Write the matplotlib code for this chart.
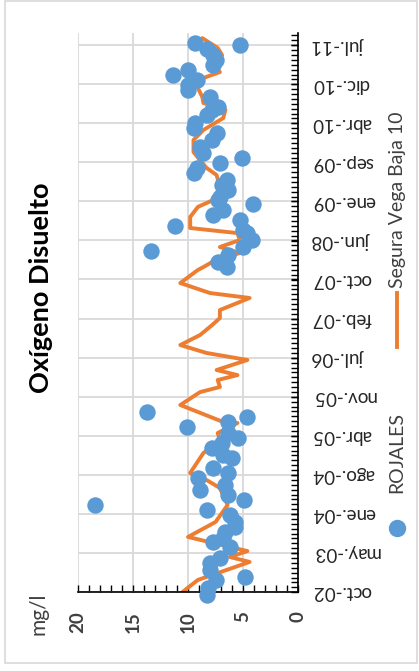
import matplotlib
matplotlib.use("Agg")
import matplotlib.pyplot as plt
import matplotlib.dates as mdates
import numpy as np
import pandas as pd
from matplotlib.lines import Line2D
from matplotlib.patches import Rectangle
from matplotlib.ticker import FixedLocator, MultipleLocator

# chart text
TITLE = "Oxígeno Disuelto"
UNIT = "mg/l"
LINE_NAME = "Segura Vega Baja 10"
DOT_NAME = "ROJALES"

# Segura Vega Baja 10 (orange line)
LINE_DATES = [
    "2002-10-01", "2002-12-11", "2003-03-27", "2003-04-25", "2003-05-30",
    "2003-08-21", "2003-11-17", "2004-02-25", "2004-06-04", "2004-07-21",
    "2004-08-02", "2004-09-01", "2004-12-27", "2005-03-14", "2005-04-24",
    "2005-06-22", "2005-06-28", "2005-10-06", "2005-12-21", "2006-01-20",
    "2006-03-02", "2006-03-31", "2006-04-30", "2006-06-28", "2006-08-08",
    "2006-09-24", "2006-11-22", "2007-01-20", "2007-03-02", "2007-04-18",
    "2007-06-28", "2007-07-27", "2007-09-24", "2007-12-10", "2007-12-27",
    "2008-01-26", "2008-03-19", "2008-04-23", "2008-06-03", "2008-07-14",
    "2008-08-13", "2008-10-17", "2008-12-15", "2009-01-25", "2009-04-11",
    "2009-06-21", "2009-08-01", "2009-08-31", "2009-11-03", "2010-01-13",
    "2010-03-13", "2010-05-22", "2010-07-09", "2010-08-19", "2010-09-23",
    "2010-11-15", "2011-01-13", "2011-02-17", "2011-03-19", "2011-05-28",
    "2011-07-09", "2011-09-05",
]
LINE_VALUES = [
    10.5, 9.1, 4.4, 6.2, 4.6,
    10.0, 7.5, 6.4, 7.1, 8.3,
    9.1, 9.8, 8.6, 7.1, 7.3,
    5.5, 6.8, 10.7, 8.9, 7.1,
    7.3, 5.5, 7.4, 4.6, 8.3,
    10.7, 8.9, 7.8, 7.1, 7.1,
    4.4, 8.0, 10.7, 9.1, 8.6,
    7.8, 5.3, 7.1, 5.3, 5.5,
    9.8, 9.8, 9.1, 7.7, 7.1,
    7.4, 8.3, 8.7, 9.5, 9.5,
    8.6, 6.8, 6.6, 8.6, 8.7,
    9.1, 8.6, 7.1, 7.7, 6.9,
    7.3, 8.7,
]

# ROJALES (blue dots)
DOT_DATES = [
    "2002-09-16", "2002-10-25", "2002-12-11", "2002-12-28", "2003-02-08",
    "2003-03-21", "2003-04-19", "2003-06-23", "2003-07-22", "2003-08-15",
    "2003-09-19", "2003-10-19", "2003-11-17", "2003-12-28", "2004-01-27",
    "2004-02-25", "2004-03-26", "2004-04-24", "2004-05-23", "2004-06-22",
    "2004-08-02", "2004-09-01", "2004-09-30", "2004-11-28", "2004-12-16",
    "2005-01-26", "2005-02-24", "2005-03-26", "2005-04-24", "2005-05-29",
    "2005-06-28", "2005-07-27", "2005-08-26",
    "2007-12-27", "2008-01-26", "2008-03-07", "2008-03-30", "2008-04-23",
    "2008-06-03", "2008-07-14", "2008-08-01", "2008-08-25", "2008-09-29",
    "2008-10-28", "2008-11-27", "2009-01-01", "2009-01-25", "2009-02-11",
    "2009-03-25", "2009-04-23", "2009-05-22", "2009-07-03", "2009-08-01",
    "2009-08-31", "2009-09-29", "2009-10-28", "2009-12-03", "2010-01-13",
    "2010-02-23", "2010-03-25", "2010-04-23", "2010-06-09", "2010-07-09",
    "2010-07-26", "2010-09-23", "2010-11-03", "2010-12-03", "2011-01-01",
    "2011-01-31", "2011-03-01", "2011-03-29", "2011-04-28", "2011-05-28",
    "2011-07-03", "2011-07-26", "2011-08-07",
]
DOT_VALUES = [
    8.3, 8.2, 7.5, 4.8, 8.0,
    8.0, 7.1, 6.2, 7.7, 6.8,
    6.6, 5.7, 5.7, 6.2, 8.3,
    18.5, 4.9, 6.4, 8.9, 6.6,
    9.1, 6.4, 7.7, 6.0, 6.8,
    7.8, 6.9, 5.5, 6.4, 10.1,
    6.4, 4.6, 13.7,
    6.5, 7.3, 6.4, 13.4, 5.0,
    4.2, 4.6, 5.0, 11.2, 5.3,
    7.7, 6.8, 4.1, 7.3, 7.1,
    6.4, 6.9, 6.5, 9.5, 9.2,
    7.1, 5.1, 8.6, 8.9, 7.8,
    7.4, 9.5, 9.4, 8.3, 7.8,
    7.3, 8.0, 10.0, 10.0, 9.2,
    11.4, 10.0, 7.7, 7.5, 7.7,
    8.3, 5.3, 9.4,
]

# axes
DATE_TICK_LABELS = [
    "oct.-02", "may.-03", "ene.-04", "ago.-04", "abr.-05", "nov.-05",
    "jul.-06", "feb.-07", "oct.-07", "jun.-08", "ene.-09", "sep.-09",
    "abr.-10", "dic.-10", "jul.-11",
]
DATE_START = "2002-10-01"
DATE_END = "2011-10-05"
DATE_STEP_DAYS = 230
VALUE_TICKS = [0, 5, 10, 15, 20]

ORANGE = "#ED7D31"
BLUE = "#5B9BD5"
GRID = "#D9D9D9"
TEXT = "#404040"

plt.rcParams["font.family"] = ["Lato", "DejaVu Sans"]

W, H = 419, 671
fig = plt.figure(figsize=(W / 100, H / 100), dpi=100)
fig.patch.set_facecolor("white")


def fx(px):
    return px / W


def fy(py):
    return 1 - py / H


ax = fig.add_axes([fx(78), fy(592), fx(298) - fx(78), fy(33) - fy(592)])

line_y = mdates.date2num(pd.to_datetime(LINE_DATES))
dot_y = mdates.date2num(pd.to_datetime(DOT_DATES))

ax.plot(LINE_VALUES, line_y, color=ORANGE, linewidth=2.8,
        solid_joinstyle="round", solid_capstyle="round", zorder=2)
ax.scatter(DOT_VALUES, dot_y, s=140, color=BLUE, linewidths=0,
           zorder=3, clip_on=False)

start = pd.Timestamp(DATE_START)
tick_dates = [start + pd.Timedelta(days=DATE_STEP_DAYS * k)
              for k in range(len(DATE_TICK_LABELS))]
ax.set_xlim(20, 0)
ax.set_ylim(mdates.date2num(start), mdates.date2num(pd.Timestamp(DATE_END)))

ax.xaxis.set_major_locator(FixedLocator(VALUE_TICKS))
ax.xaxis.set_minor_locator(MultipleLocator(1))
ax.yaxis.tick_right()
ax.set_yticks(mdates.date2num(tick_dates))
ax.set_yticklabels(DATE_TICK_LABELS, rotation=180, va="center", ha="left")
ax.yaxis.set_minor_locator(MultipleLocator(DATE_STEP_DAYS / 8))

for side in ("top", "left"):
    ax.spines[side].set_visible(False)
for side in ("bottom", "right"):
    ax.spines[side].set_color("black")
    ax.spines[side].set_linewidth(1.2)

ax.grid(True, which="major", color=GRID, linewidth=1.3)
ax.set_axisbelow(True)

ax.tick_params(axis="both", which="both", direction="in", length=5,
               width=1, color="black")
ax.tick_params(axis="x", labelrotation=90, pad=14, labelsize=13.5,
               labelcolor=TEXT)
ax.tick_params(axis="y", pad=10, labelsize=13.5, labelcolor="#262626")
for lbl in ax.get_xticklabels():
    lbl.set_fontweight("bold")

# title and unit
fig.text(fx(41), fy(288), TITLE, rotation=90, fontsize=19.5, fontweight="bold",
         ha="center", va="center", color="black")
fig.text(fx(38), fy(614), UNIT, rotation=90, fontsize=15,
         ha="center", va="center", color=TEXT)

# legend (vertical, drawn by hand)
fig.add_artist(Line2D([fx(397), fx(397)], [fy(347), fy(293)], color=ORANGE,
                      linewidth=2.8, transform=fig.transFigure))
fig.text(fx(397), fy(288), LINE_NAME, rotation=90, fontsize=14,
         ha="center", va="bottom", color=TEXT)
fig.add_artist(Line2D([fx(397)], [fy(528)], marker="o", markersize=11.5,
                      color=BLUE, linestyle="none", transform=fig.transFigure))
fig.text(fx(397), fy(493), DOT_NAME, rotation=90, fontsize=14,
         ha="center", va="bottom", color=TEXT)

# chart border
fig.add_artist(Rectangle((fx(5), fy(663)), fx(417) - fx(5), fy(1) - fy(663),
                         fill=False, edgecolor=GRID, linewidth=1.2,
                         transform=fig.transFigure))

fig.savefig("out.png", dpi=100, facecolor="white")
